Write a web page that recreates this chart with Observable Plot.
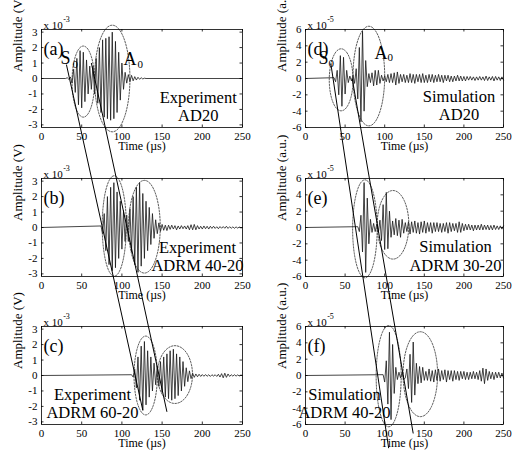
<!DOCTYPE html>
<html><head><meta charset="utf-8">
<script src="https://cdn.jsdelivr.net/npm/d3@7"></script>
<script src="https://cdn.jsdelivr.net/npm/@observablehq/plot@0.6"></script>
<style>
html,body{margin:0;padding:0;background:#fff;}
#fig{position:relative;width:512px;height:452px;overflow:hidden;background:#fff;}
#fig svg{position:absolute;}
#fig svg, #fig svg text, #fig svg g {font-family:"Liberation Serif","Times New Roman",serif !important;}
</style></head><body><div id="fig"></div>
<script>
// ---------- data ----------
const xTicks = [0, 50, 100, 150, 200, 250];
const yTicksExp = [-3, -2, -1, 0, 1, 2, 3];
const yTicksSim = [-6, -4, -2, 0, 2, 4, 6];
const step = 2; // sampling step of the listed amplitudes (µs)

// (a) Experiment AD20, x1e-3 V, first sample at 30 µs
const aStart = 30;
const aAmp = [0, 0.05, -0.05, 0.1, -0.3, 0.6, -0.9, 1.3, -1.7, 1.8, -1.9, 1.7, -1.5, 1.2, -1.0, 0.8, -0.7, 0.8, -1.0, 1.3,
  -1.6, 2.0, -2.2, 2.5, -2.5, 2.6, -2.6, 2.7, -2.7, 3.0, -2.6, 2.4, -2.2, 1.7, -1.4, 1.0, -0.7, 0.4, -0.3, 0.25,
  -0.2, 0.2, -0.15, 0.12, -0.1, 0.08, -0.05, 0.05, -0.03, 0.02, 0];
// (b) Experiment ADRM 40-20, first sample at 74 µs
const bStart = 74;
const bAmp = [0.1, -0.4, 0.9, -1.5, 2.0, -2.4, 2.6, -2.8, 2.9, -2.6, 2.3, -2.0, 1.7, -1.4, 1.1, -0.9, 0.8, -0.9, 1.2, -1.6,
  2.0, -2.4, 2.6, -2.9, 2.9, -2.5, 2.2, -2.0, 1.7, -1.5, 1.3, -1.1, 0.9, -0.7, 0.5, -0.4, 0.3, -0.25, 0.2, -0.18,
  0.15, -0.2, 0.15, -0.12, 0.15, -0.1, 0.12, -0.15, 0.1, -0.1, 0.12, -0.08, 0.1, -0.1, 0.12, -0.15, 0.18, -0.15, 0.2, -0.15,
  0.12, -0.1, 0.08, -0.1, 0.1, -0.08, 0.08, -0.1, 0.08, -0.06, 0.08, -0.06, 0.05, -0.08, 0.06, -0.05, 0.06, -0.05, 0.08, -0.06,
  0.05, -0.05, 0.04, -0.05, 0.04, -0.04, 0.03, -0.03, 0];
// (c) Experiment ADRM 60-20, first sample at 112 µs
const cStart = 112;
const cAmp = [0.05, -0.1, 0.4, -0.8, 1.2, -1.6, 1.9, -2.25, 2.2, -1.9, 1.6, -1.4, 1.2, -1.0, 0.8, -0.6, 0.6, -0.7, 0.9, -1.1,
  1.2, -1.4, 1.4, -1.5, 1.6, -1.6, 1.7, -1.5, 1.4, -1.3, 1.2, -1.0, 0.9, -0.7, 0.5, -0.4, 0.3, -0.2, 0.15, -0.12,
  0.1, -0.08, 0.08, -0.06, 0.06, -0.05, 0.06, -0.05, 0.05, -0.06, 0.05, -0.04, 0.05, -0.06, 0.08, -0.1, 0.12, -0.15, 0.15, -0.12,
  0.1, -0.06, 0.05, -0.04, 0.05, -0.04, 0.04, -0.03, 0.03, 0];
// (d) Simulation AD20, x1e-5 a.u., first sample at 36 µs
const dStart = 36;
const dAmp = [0.1, -0.4, 1.0, -2.0, 2.8, -3.4, 2.6, -1.9, 1.0, -0.5, 0.3, -0.3, 0.4, -0.6, 1.2, -2.5, 3.8, -5.3, 5.8, -4.0,
  2.2, -1.0, 0.6, -0.5, 0.7, -0.9, 1.0, -0.8, 1.0, -0.6, 0.4, -0.3, 0.3, -0.4, 0.5, -0.5, 0.6, -0.5, 0.7, -0.8,
  0.8, -0.6, 0.5, -0.4, 0.5, -0.5, 0.4, -0.5, 0.6, -0.5, 0.5, -0.6, 0.5, -0.4, 0.5, -0.5, 0.6, -0.5, 0.4, -0.5,
  0.5, -0.4, 0.5, -0.5, 0.4, -0.4, 0.5, -0.4, 0.4, -0.5, 0.4, -0.3, 0.4, -0.4, 0.3, -0.4, 0.3, -0.3, 0.4, -0.3,
  0.3, -0.3, 0.25, -0.3, 0.25, -0.2, 0.25, -0.2, 0.2, -0.25, 0.2, -0.2, 0.25, -0.2, 0.2, -0.25, 0.3, -0.25, 0.2, -0.2,
  0.25, -0.3, 0.25, -0.2, 0.2, -0.25, 0.2, -0.2];
// (e) Simulation ADRM 30-20, first sample at 66 µs
const eStart = 66;
const eAmp = [0.1, -0.5, 1.5, -3.0, 5.5, -5.5, 3.6, -2.0, 1.0, -0.6, 0.5, -0.5, 0.4, -0.6, 0.9, -1.6, 2.8, -2.7, 4.3, -2.6,
  2.0, -1.2, 0.8, -0.9, 1.1, -1.0, 0.9, -1.2, 1.0, -0.7, 0.6, -0.5, 0.7, -0.8, 0.7, -0.6, 0.8, -0.7, 0.6, -0.8,
  0.7, -0.6, 0.8, -0.7, 0.6, -0.5, 0.6, -0.7, 0.6, -0.5, 0.6, -0.5, 0.5, -0.6, 0.5, -0.5, 0.6, -0.7, 0.6, -0.5,
  0.5, -0.4, 0.5, -0.6, 0.7, -0.6, 0.5, -0.4, 0.4, -0.3, 0.4, -0.3, 0.3, -0.4, 0.3, -0.3, 0.3, -0.3, 0.4, -0.3,
  0.3, -0.25, 0.3, -0.3, 0.25, -0.3, 0.3, -0.25, 0.2, -0.25, 0.2, -0.2, 0.2];
// (f) Simulation ADRM 40-20, first sample at 98 µs
const fStart = 98;
const fAmp = [0.1, -0.8, 1.8, -3.5, 5.3, -5.4, 3.8, -2.2, 1.0, -0.5, 0.4, -0.3, 0.4, -0.5, -0.3, 0.8, -1.6, 2.6, -3.3, 4.1,
  -2.4, 1.5, -1.0, 1.1, -0.9, 1.0, -0.6, 0.5, -0.6, 0.8, -0.7, 0.6, -0.8, 0.7, -0.6, 0.8, -0.7, 0.6, -0.5, 0.7,
  -0.8, 0.6, -0.5, 0.6, -0.7, 0.6, -0.5, 0.5, -0.6, 0.5, -0.4, 0.5, -0.5, 0.4, -0.5, 0.4, -0.4, 0.5, -0.4, 0.4,
  -0.5, 0.6, -0.7, 0.9, -1.0, 0.8, -0.6, 0.5, -0.4, 0.4, -0.5, 0.4, -0.3, 0.4, -0.3, 0.3, -0.3];

// dotted ellipses: [centre time, centre amplitude, half-width µs, half-height]
const aEllipses = [[52, -0.2, 14, 2.3], [88, 0, 22, 3.45]];
const bEllipses = [[90.5, 0.1, 15, 3.25], [128, 0.05, 19.7, 3.0]];
const cEllipses = [[129.6, 0, 14.5, 2.55], [166, 0.06, 21.8, 1.87]];
const dEllipses = [[45, -0.16, 15, 3.8], [80, 0.3, 20, 6.1]];
const eEllipses = [[75, -0.16, 15.5, 6.0], [110.5, 0.33, 20, 4.2]];
const fEllipses = [[105, -0.08, 15.8, 6.2], [145, 0.16, 21.8, 5.2]];

// notes: text, time, amplitude
const notes = {
  a: ["Experiment\nAD20", 195, -1.8],
  b: ["Experiment\nADRM 40-20", 194, -1.85],
  c: ["Experiment\nADRM 60-20", 63.4, -1.8],
  d: ["Simulation\nAD20", 193.8, -3.27],
  e: ["Simulation\nADRM 30-20", 189.4, -3.45],
  f: ["Simulation\nADRM 40-20", 49.2, -3.4]
};
// mode labels [letter, time (left edge), amplitude, subscript, time, amplitude]
const aModes = [["S", 23.6, 1.33, "0", 38.6, 0.94], ["A", 102, 1.23, "0", 119.4, 0.94]];
const dModes = [["S", 16.4, 2.5, "0", 29, 1.9], ["A", 87, 3.1, "0", 103.5, 2.57]];

// propagation lines across panels: from panel (time, amp) to panel (time, amp)
const pathLines = [
  {p1: "a", t1: 31, v1: 0.9, p2: "c", t2: 126, v2: -2.25},
  {p1: "a", t1: 62, v1: 1.0, p2: "c", t2: 156, v2: -2.35},
  {p1: "d", t1: 32, v1: 1.8, p2: "f", t2: 105, v2: -8.9},
  {p1: "d", t1: 59, v1: 0, p2: "f", t2: 136, v2: -7.1}
];

// ---------- layout ----------
const colLeft = [41, 305], colWidth = [201, 198], rowTop = [29, 177.5, 326], FH = 98;
const ML = 40, MR = 10, MT = 28, MB = 30;
const font = "Liberation Serif";

const panels = [
  {id: "a", col: 0, row: 0, start: aStart, amp: aAmp, ell: aEllipses, ymax: 3.17, yTicks: yTicksExp, exp: "-3", ylab: "Amplitude (V)", modes: aModes},
  {id: "b", col: 0, row: 1, start: bStart, amp: bAmp, ell: bEllipses, ymax: 3.17, yTicks: yTicksExp, exp: "-3", ylab: "Amplitude (V)", modes: []},
  {id: "c", col: 0, row: 2, start: cStart, amp: cAmp, ell: cEllipses, ymax: 3.17, yTicks: yTicksExp, exp: "-3", ylab: "Amplitude (V)", modes: []},
  {id: "d", col: 1, row: 0, start: dStart, amp: dAmp, ell: dEllipses, ymax: 6, yTicks: yTicksSim, exp: "-5", ylab: "Amplitude (a.u.)", modes: dModes},
  {id: "e", col: 1, row: 1, start: eStart, amp: eAmp, ell: eEllipses, ymax: 6, yTicks: yTicksSim, exp: "-5", ylab: "Amplitude (a.u.)", modes: []},
  {id: "f", col: 1, row: 2, start: fStart, amp: fAmp, ell: fEllipses, ymax: 6, yTicks: yTicksSim, exp: "-5", ylab: "Amplitude (a.u.)", modes: []}
];

const fig = document.getElementById("fig");
const charts = {};

for (const p of panels) {
  const fw = colWidth[p.col];
  const W = ML + fw + MR, H = MT + FH + MB;
  const data = [{t: 0, v: 0}, ...p.amp.map((v, i) => ({t: p.start + i * step, v}))];
  if (data[data.length - 1].t < 250) data.push({t: 250, v: 0});
  const ell = p.ell.flatMap(([cx, cy, rx, ry], k) => d3.range(0, 73).map(j => {
    const a = j / 72 * 2 * Math.PI;
    return {k, t: cx + rx * Math.cos(a), v: cy + ry * Math.sin(a)};
  }));
  const n = notes[p.id];
  const modeBig = p.modes.map(m => ({s: m[0], t: m[1], v: m[2]}));
  const modeSub = p.modes.map(m => ({s: m[3], t: m[4], v: m[5]}));
  const T = {fontFamily: font};
  const chart = Plot.plot({
    width: W, height: H,
    marginLeft: ML, marginRight: MR, marginTop: MT, marginBottom: MB,
    x: {domain: [0, 250], axis: null},
    y: {domain: [-p.ymax, p.ymax], axis: null},
    style: {background: "transparent", color: "#000", fontFamily: font, overflow: "visible"},
    marks: [
      Plot.line(data, {x: "t", y: "v", stroke: "#161616", strokeWidth: 0.8}),
      Plot.line(ell, {x: "t", y: "v", z: "k", stroke: "#333", strokeWidth: 0.8, strokeDasharray: "1.6,1.4"}),
      Plot.frame({stroke: "#000", strokeWidth: 0.8}),
      Plot.tickX(xTicks, {x: d => d, insetTop: FH - 2.5, stroke: "#000", strokeWidth: 0.8}),
      Plot.tickX(xTicks, {x: d => d, insetBottom: FH - 2.5, stroke: "#000", strokeWidth: 0.8}),
      Plot.tickY(p.yTicks, {y: d => d, insetRight: fw - 2.5, stroke: "#000", strokeWidth: 0.8}),
      Plot.tickY(p.yTicks, {y: d => d, insetLeft: fw - 2.5, stroke: "#000", strokeWidth: 0.8}),
      Plot.axisX({ticks: xTicks, tickSize: 0, tickPadding: 5, fontSize: 11, label: null, tickFormat: d => String(d), ...T}),
      Plot.axisY({ticks: p.yTicks, tickSize: 0, tickPadding: 4, fontSize: 11, label: null, tickFormat: d => String(d), ...T}),
      Plot.text(["Time (µs)"], {frameAnchor: "bottom", dy: 22.5, fontSize: 12, ...T}),
      Plot.text([p.ylab], {frameAnchor: "left", rotate: -90, dx: -24, dy: -6.5, fontSize: 13, ...T}),
      Plot.text(["x 10"], {frameAnchor: "top-left", textAnchor: "start", dx: 2, dy: -8, fontSize: 11, ...T}),
      Plot.text([p.exp], {frameAnchor: "top-left", textAnchor: "start", dx: 21.7, dy: -13.5, fontSize: 8, ...T}),
      Plot.text(["(" + p.id + ")"], {frameAnchor: "top-left", textAnchor: "start", dx: 2, dy: 13, fontSize: 18, ...T}),
      Plot.text([{s: n[0], t: n[1], v: n[2]}], {x: "t", y: "v", text: "s", fontSize: 16.5, lineHeight: 1.1, textAnchor: "middle", ...T}),
      Plot.text(modeBig, {x: "t", y: "v", text: "s", fontSize: 18, textAnchor: "start", ...T}),
      Plot.text(modeSub, {x: "t", y: "v", text: "s", fontSize: 11, textAnchor: "start", ...T})
    ]
  });
  chart.style.left = (colLeft[p.col] - ML) + "px";
  chart.style.top = (rowTop[p.row] - MT) + "px";
  fig.appendChild(chart);
  charts[p.id] = {chart, left: colLeft[p.col] - ML, top: rowTop[p.row] - MT};
}

function applyScale(chart, name, v) {
  const s = chart.scale(name);
  if (s && typeof s.apply === "function") return s.apply(v);
  return d3.scaleLinear().domain(s.domain).range(s.range)(v);
}
const links = pathLines.map(l => {
  const A = charts[l.p1], B = charts[l.p2];
  return {
    x1: A.left + applyScale(A.chart, "x", l.t1), y1: A.top + applyScale(A.chart, "y", l.v1),
    x2: B.left + applyScale(B.chart, "x", l.t2), y2: B.top + applyScale(B.chart, "y", l.v2)
  };
});
const overlay = Plot.plot({
  width: 512, height: 452, margin: 0,
  x: {type: "identity", axis: null}, y: {type: "identity", axis: null},
  style: {background: "transparent", pointerEvents: "none"},
  marks: [Plot.link(links, {x1: "x1", y1: "y1", x2: "x2", y2: "y2", stroke: "#000", strokeWidth: 1})]
});
overlay.style.left = "0px";
overlay.style.top = "0px";
fig.appendChild(overlay);
</script>
</body></html>
